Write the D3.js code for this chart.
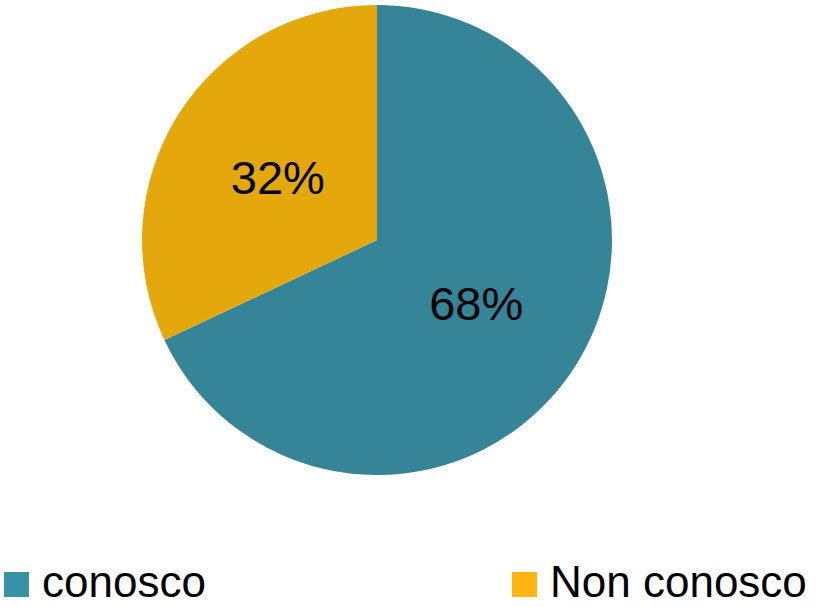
<!DOCTYPE html>
<html>
<head>
  <meta charset="utf-8">
  <script src="https://d3js.org/d3.v7.min.js"></script>
  <style>
    body { margin: 0; background: #fff; overflow: hidden; }
    text { font-family: "Liberation Sans", Arial, sans-serif; }
  </style>
</head>
<body>
  <div id="chart"></div>
  <script>
    // data
    var labels = ["conosco", "Non conosco"];
    var values = [68, 32];
    var pieColors = ["#358497", "#e4a80c"];
    var legendColors = ["#3792a5", "#fdb512"];

    var width = 826, height = 607;
    var cx = 377, cy = 240, radius = 235;

    var svg = d3.select("#chart").append("svg")
      .attr("width", width)
      .attr("height", height)
      .style("display", "block");

    var pie = d3.pie().sort(null).value(function(d) { return d; });
    var arc = d3.arc().innerRadius(0).outerRadius(radius);

    var g = svg.append("g").attr("transform", "translate(" + cx + "," + cy + ")");

    var slices = g.selectAll("g.slice")
      .data(pie(values))
      .enter().append("g").attr("class", "slice");

    slices.append("path")
      .attr("d", arc)
      .attr("fill", function(d, i) { return pieColors[i]; });

    slices.append("text")
      .attr("transform", function(d) { return "translate(" + arc.centroid(d) + ")"; })
      .attr("text-anchor", "middle")
      .attr("dy", "0.36em")
      .style("font-size", "47px")
      .attr("fill", "#000")
      .text(function(d) { return d.value + "%"; });

    // legend along the bottom
    var legendX = [4, 512];
    var legend = svg.selectAll("g.legend")
      .data(labels)
      .enter().append("g")
      .attr("class", "legend")
      .attr("transform", function(d, i) { return "translate(" + legendX[i] + ",572)"; });

    legend.append("rect")
      .attr("width", 25)
      .attr("height", 25)
      .attr("fill", function(d, i) { return legendColors[i]; });

    legend.append("text")
      .attr("x", 38)
      .attr("y", 25)
      .style("font-size", "44px")
      .attr("fill", "#000")
      .text(function(d) { return d; });
  </script>
</body>
</html>
